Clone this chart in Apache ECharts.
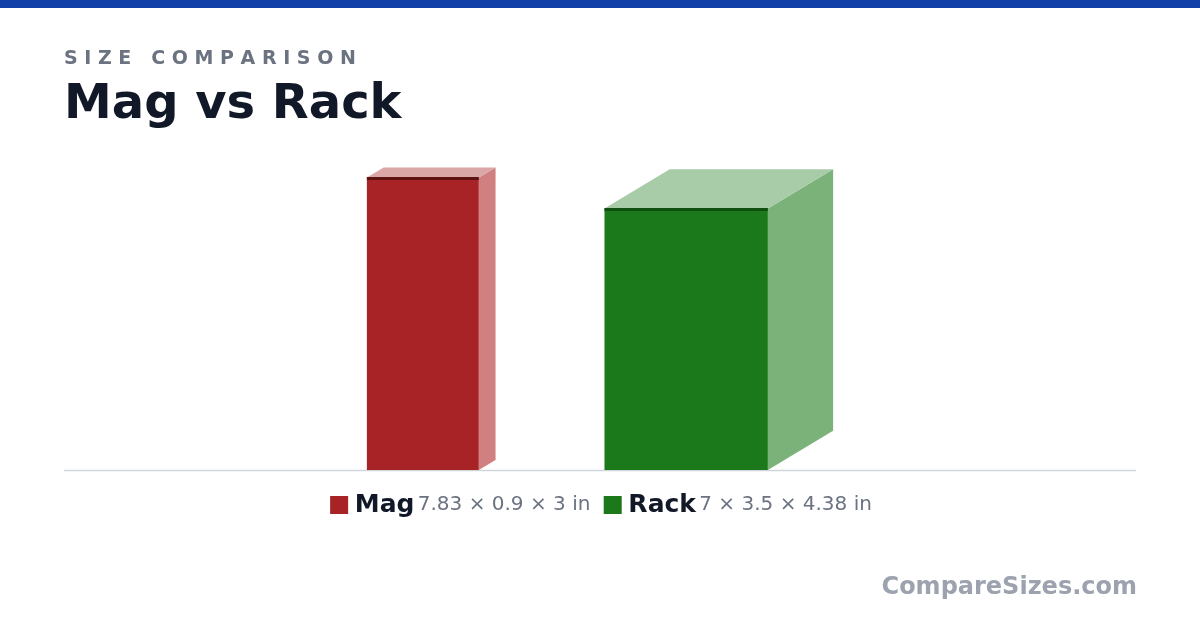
<!DOCTYPE html>
<html><head><meta charset="utf-8">
<script src="https://cdn.jsdelivr.net/npm/echarts@6/dist/echarts.min.js"></script>
<style>html,body{margin:0;padding:0;background:#fff}#c{width:1200px;height:630px}</style>
</head><body><div id="c"></div>
<script>
const names = ['Mag', 'Rack'];
const heights = [7.83, 7];
const depths = [0.9, 3.5];
const widths = [3, 4.38];
const dimLabels = ['7.83 × 0.9 × 3 in', '7 × 3.5 × 4.38 in'];
const colors = [
  {front:'#a82325', side:'#d08080', top:'#dba6a6', edge:'#5e1212'},
  {front:'#1b781b', side:'#7ab27a', top:'#a8cba8', edge:'#0f4f0f'}
];
const XMAX = 28.74, GAP = 2.92, DX = 0.5, DY = 0.3;
const total = widths[0] + depths[0]*DX + GAP + widths[1] + depths[1]*DX;
const start0 = (XMAX - total) / 2;
const starts = [start0, start0 + widths[0] + depths[0]*DX + GAP];
const data = names.map((n,i)=>[starts[i], widths[i], heights[i], depths[i], i]);

const chart = echarts.init(document.getElementById('c'));
chart.setOption({
  animation:false,
  grid:{left:64, right:64, top:470-37.35*8.5, bottom:160},
  xAxis:{type:'value', min:0, max:XMAX, show:false},
  yAxis:{type:'value', min:0, max:8.5, show:false},
  series:[{
    type:'custom', data:data,
    renderItem:function(params, api){
      const x=api.value(0), w=api.value(1), h=api.value(2), d=api.value(3), i=api.value(4);
      const c=colors[i];
      const ox=d*DX, oy=d*DY;
      const p=(a,b)=>api.coord([a,b]);
      return {type:'group', children:[
        {type:'polygon', shape:{points:[p(x+w,0),p(x+w+ox,oy),p(x+w+ox,h+oy),p(x+w,h)]}, style:{fill:c.side}},
        {type:'polygon', shape:{points:[p(x,h),p(x+w,h),p(x+w+ox,h+oy),p(x+ox,h+oy)]}, style:{fill:c.top}},
        {type:'polygon', shape:{points:[p(x,0),p(x+w,0),p(x+w,h),p(x,h)]}, style:{fill:c.front}},
        {type:'line', shape:{x1:p(x,h)[0], y1:p(x,h)[1]+1, x2:p(x+w,h)[0], y2:p(x+w,h)[1]+1}, style:{stroke:c.edge, lineWidth:3}}
      ]};
    }
  }],
  graphic:[
    {type:'rect', shape:{x:0,y:0,width:1200,height:8}, style:{fill:'#1040a8'}},
    {type:'text', x:64, y:50, style:{text:'S I Z E   C O M P A R I S O N', font:'bold 19px "DejaVu Sans"', fill:'#6b7280'}},
    {type:'text', x:64, y:82, style:{text:'Mag vs Rack', font:'bold 48px "DejaVu Sans"', fill:'#111827'}},
    {type:'line', shape:{x1:64,y1:470.5,x2:1136,y2:470.5}, style:{stroke:'#d1d5db', lineWidth:1.5}},
    {type:'text', x:601, y:505, style:{
      text:'{s0|}  {n|Mag} {d|'+dimLabels[0]+'}    {s1|}  {n|Rack} {d|'+dimLabels[1]+'}',
      align:'center', verticalAlign:'middle',
      rich:{
        s0:{width:18,height:18,backgroundColor:colors[0].front},
        s1:{width:18,height:18,backgroundColor:colors[1].front},
        n:{font:'bold 25px "DejaVu Sans"', fill:'#111827'},
        d:{font:'20px "DejaVu Sans"', fill:'#6b7280'}
      }}},
    {type:'text', x:1137, y:588, style:{text:'CompareSizes.com', align:'right', verticalAlign:'middle', font:'bold 24px "DejaVu Sans"', fill:'#9ca3af'}}
  ]
});
</script></body></html>
